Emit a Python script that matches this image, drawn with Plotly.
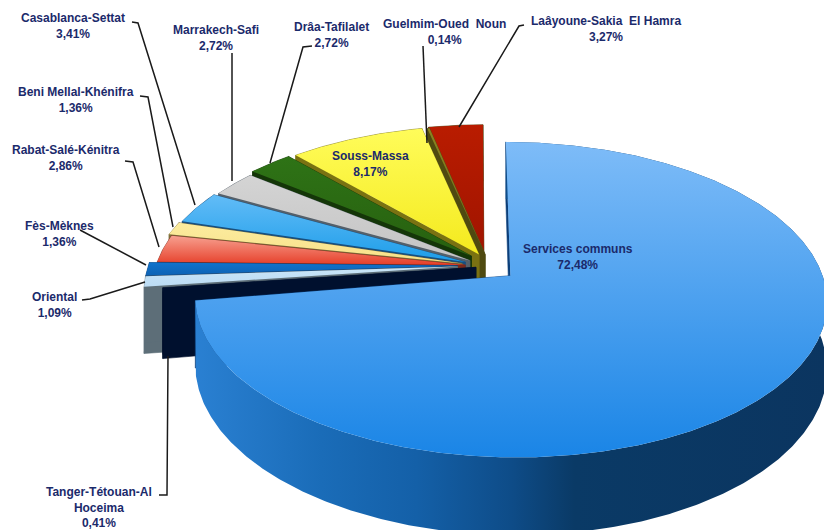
import numpy as np
import plotly.graph_objects as go

# ---- data (clockwise from 12 o'clock) ----
regions = ["Services communs", "Tanger-Tétouan-Al<br>Hoceima", "Oriental", "Fès-Mèknes",
           "Rabat-Salé-Kénitra", "Beni Mellal-Khénifra", "Casablanca-Settat",
           "Marrakech-Safi", "Drâa-Tafilalet", "Souss-Massa", "Guelmim-Oued  Noun",
           "Laâyoune-Sakia  El Hamra"]
shares = [72.48, 0.41, 1.09, 1.36, 2.86, 1.36, 3.41, 2.72, 2.72, 8.17, 0.14, 3.27]

# ---- styles ----
top_colors = [("#7ebcf8", "#1a85e6"), ("#00102e", "#00102e"), ("#c9e5f8", "#bcdcf4"),
              ("#1173cc", "#0d62b4"), ("#f7a090", "#e63e28"), ("#fcec9f", "#f8e088"),
              ("#62bcf7", "#1d9de9"), ("#d4d4d4", "#c4c4c4"), ("#2e7316", "#27600f"),
              ("#fffc5a", "#f4ea1e"), ("#8a8420", "#6f6a18"), ("#b91c00", "#a01400")]
wall_colors = ["#0c3f7a", "#00102e", "#5d6e78", "#0a3f78", "#7a2a1c", "#7d6f3a", "#164f80",
               "#55606a", "#143608", "#7a7212", "#4f4a10", "#4c3a08"]
big_wall_scale = [[0, "#2a80d2"], [0.2, "#1a6cb8"], [0.35, "#1460a8"], [0.5, "#0e4c88"],
                  [0.6, "#0a3a66"], [1, "#0b3560"]]
# sideways and depth displacement of every exploded slice, in disc radii
shift_x = [0.11, 0.0, -0.06, -0.06, -0.035, -0.045, -0.035, -0.02, -0.015, 0.01, 0.03, 0.026]
shift_y = [-0.09, -0.035, -0.03, -0.025, -0.02, -0.01, 0.0, 0.01, 0.04, 0.05, 0.05, 0.06]

# ---- projection of the tilted disc onto the page ----
CX, CY, RX, RY, K, H = 476.0, 262.0, 308.0, 150.0, 0.15, 65.0


def project(x, y, drop=0.0):
    w = 1.0 / (1.0 + K * y)
    return CX + RX * x * w, CY + (-RY * y + drop) * w


def poly(fig, x, y, c0, c1=None, horizontal=None):
    x, y = list(x) + [x[0]], list(y) + [y[0]]
    kw = dict(x=x, y=y, mode="lines", fill="toself", hoverinfo="skip", showlegend=False)
    if horizontal:
        kw["fillgradient"] = dict(type="horizontal", colorscale=horizontal)
        kw["line"] = dict(width=0)
    elif c1:
        # this axis runs downwards, so the scale is given bottom colour first
        kw["fillgradient"] = dict(type="vertical", colorscale=[[0, c1], [1, c0]])
        kw["line"] = dict(width=0)
    else:
        kw["fillcolor"] = c0
        kw["line"] = dict(width=0.6, color=c0)
    fig.add_trace(go.Scatter(**kw))


fig = go.Figure()
edges = np.concatenate([[0], np.cumsum(shares)]) / sum(shares) * 360
for i in list(range(len(shares) - 1, 0, -1)) + [0]:
    ox, oy = shift_x[i], shift_y[i]
    t = np.radians(np.linspace(edges[i], edges[i + 1], max(8, int(edges[i + 1] - edges[i]) * 2)))
    ax, ay = ox + np.sin(t), oy + np.cos(t)
    wall = wall_colors[i]
    # radial faces
    for ex, ey in ((ax[0], ay[0]), (ax[-1], ay[-1])):
        p = [project(ox, oy), project(ex, ey), project(ex, ey, H), project(ox, oy, H)]
        poly(fig, [q[0] for q in p], [q[1] for q in p], wall)
    # outer wall
    tx, ty = project(ax, ay)
    bx, by = project(ax, ay, H)
    wx = np.concatenate([tx, bx[::-1]])
    wy = np.concatenate([ty, by[::-1]])
    if i == 0:
        poly(fig, wx, wy, wall, horizontal=big_wall_scale)
    else:
        poly(fig, wx, wy, wall)
    # top
    c = project(ox, oy)
    poly(fig, np.r_[c[0], tx], np.r_[c[1], ty], top_colors[i][0], top_colors[i][1])

# ---- leader lines ----
leaders = [
    [(159, 495), (167, 495), (168, 356)],
    [(82, 300), (90, 299), (145, 282)],
    [(80, 230), (146, 265)],
    [(125, 161), (133, 162), (159, 247)],
    [(140, 96), (148, 97), (173, 227)],
    [(132, 22), (138, 23), (195, 205)],
    [(232, 53), (232, 181)],
    [(312, 46), (303, 47), (270, 163)],
    [(423, 46), (427, 143)],
    [(524, 25), (519, 26), (459, 127)],
]
for pts in leaders:
    fig.add_trace(go.Scatter(x=[p[0] for p in pts], y=[p[1] for p in pts], mode="lines",
                             line=dict(color="#1a1a1a", width=1.5), hoverinfo="skip",
                             showlegend=False))

# ---- labels ----
label_xy = [(578, 257), (99, 507), (54, 305), (59, 234), (66, 158), (76, 100), (73, 26),
            (216, 38), (331, 35), (370, 164), (444, 32), (606, 29)]
for name, val, (lx, ly) in zip(regions, shares, label_xy):
    fig.add_annotation(x=lx, y=ly, xref="x", yref="y", showarrow=False,
                       text="<b>%s<br>%s%%</b>" % (name, ("%.2f" % val).replace(".", ",")),
                       font=dict(family="Liberation Sans", size=12, color="#1b2a6b"),
                       align="center", xanchor="center", yanchor="middle")

fig.update_layout(width=824, height=530, margin=dict(l=0, r=0, t=0, b=0),
                  paper_bgcolor="white", plot_bgcolor="white", showlegend=False,
                  xaxis=dict(range=[0, 824], visible=False, fixedrange=True),
                  yaxis=dict(range=[530, 0], visible=False, fixedrange=True))
fig.write_html("out.html", config=dict(displayModeBar=False),
               post_script="document.body.style.margin='0';"
               "document.documentElement.style.overflow='hidden';")
